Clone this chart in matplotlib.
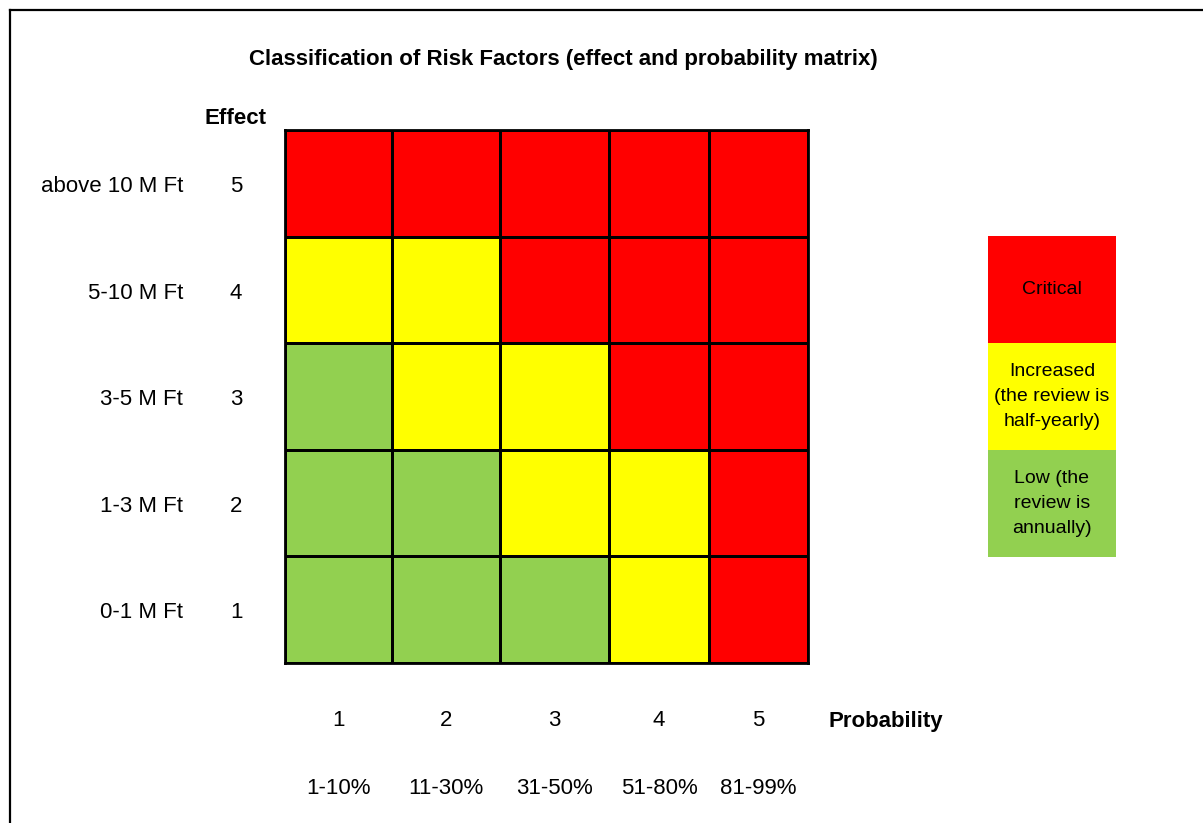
import matplotlib
matplotlib.use("Agg")
import matplotlib.pyplot as plt
import matplotlib.transforms as mtransforms
from matplotlib.colors import ListedColormap
from matplotlib.lines import Line2D
import numpy as np

plt.rcParams["font.family"] = ["Liberation Sans", "DejaVu Sans"]

# ── data ──
effect_labels = ["0-1 M Ft", "1-3 M Ft", "3-5 M Ft", "5-10 M Ft", "above 10 M Ft"]
effect_levels = ["1", "2", "3", "4", "5"]
prob_levels = ["1", "2", "3", "4", "5"]
prob_ranges = ["1-10%", "11-30%", "31-50%", "51-80%", "81-99%"]
# risk class per cell: 0 = low, 1 = increased, 2 = critical  (rows: effect 1..5, cols: probability 1..5)
risk = [
    [0, 0, 0, 1, 2],
    [0, 0, 1, 1, 2],
    [0, 1, 1, 2, 2],
    [1, 1, 2, 2, 2],
    [2, 2, 2, 2, 2],
]
classes = ["Low (the\nreview is\nannually)", "Increased\n(the review is\nhalf-yearly)", "Critical"]
class_colors = ["#92D050", "#FFFF00", "#FF0000"]

# ── layout (pixels) ──
W, H = 1203, 823
col_edges = np.array([0, 107, 215, 324, 424, 523])  # columns are not quite even in the original
FS = 16

def fx(px):
    return px / W

def fy(py):
    return 1 - py / H

fig = plt.figure(figsize=(W / 100, H / 100), dpi=100)
fig.patch.set_facecolor("white")
cmap = ListedColormap(class_colors)

# matrix
ax = fig.add_axes([fx(285), fy(663), 523 / W, 533 / H])
ax.pcolormesh(col_edges, np.arange(len(effect_levels) + 1), np.array(risk), cmap=cmap,
              vmin=-0.5, vmax=2.5, edgecolors="black", linewidth=2)
ax.set_xlim(col_edges[0], col_edges[-1])
ax.set_ylim(0, len(effect_levels))
ax.set_xticks([])
ax.set_yticks([])
for s in ax.spines.values():
    s.set_linewidth(2)
    s.set_color("black")

# row labels
tr_y = mtransforms.blended_transform_factory(fig.transFigure, ax.transData)
for i, (name, num) in enumerate(zip(effect_labels, effect_levels)):
    ax.text(fx(183), i + 0.47, name, transform=tr_y, ha="right", va="center", fontsize=FS)
    ax.text(fx(236), i + 0.47, num, transform=tr_y, ha="center", va="center", fontsize=FS)
fig.text(fx(236), fy(118), "Effect", ha="center", va="center", fontsize=FS, fontweight="bold")

# column labels
tr_x = mtransforms.blended_transform_factory(ax.transData, fig.transFigure)
centers = (col_edges[:-1] + col_edges[1:]) / 2
for c, num, rng in zip(centers, prob_levels, prob_ranges):
    ax.text(c, fy(721), num, transform=tr_x, ha="center", va="center", fontsize=FS)
    ax.text(c, fy(789), rng, transform=tr_x, ha="center", va="center", fontsize=FS)
fig.text(fx(829), fy(721), "Probability", ha="left", va="center", fontsize=FS, fontweight="bold")

# title
fig.text(fx(563), fy(60), "Classification of Risk Factors (effect and probability matrix)",
         ha="center", va="center", fontsize=FS, fontweight="bold")

# legend column
lax = fig.add_axes([fx(988), fy(557), 128 / W, 321 / H])
lax.pcolormesh([0, 1], np.arange(len(classes) + 1), np.arange(len(classes)).reshape(-1, 1),
               cmap=cmap, vmin=-0.5, vmax=2.5)
lax.set_xlim(0, 1)
lax.set_ylim(0, len(classes))
lax.axis("off")
for i, label in enumerate(classes):
    lax.text(0.5, i + 0.5, label, ha="center", va="center", fontsize=14, linespacing=1.6)

# frame around the sheet (left and top edges only)
fig.add_artist(Line2D([fx(10), fx(10)], [0, fy(10)], color="black", lw=1.6, transform=fig.transFigure))
fig.add_artist(Line2D([fx(10), 1], [fy(10), fy(10)], color="black", lw=1.6, transform=fig.transFigure))

fig.savefig("out.png", dpi=100, facecolor="white")
